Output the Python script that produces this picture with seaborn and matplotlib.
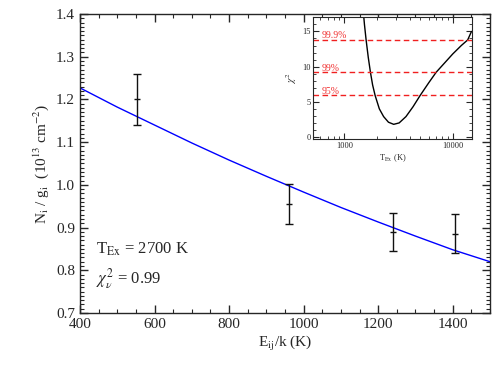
import numpy as np
import pandas as pd
import matplotlib
matplotlib.use("Agg")
import matplotlib.pyplot as plt
import seaborn as sns
from matplotlib.ticker import MultipleLocator, LogLocator, NullFormatter

# =====================================================
# DATA
# =====================================================

# observed level populations
E_obs = [553, 961, 1240, 1406]
N_obs = [1.200, 0.956, 0.890, 0.886]
N_err = [0.060, 0.047, 0.045, 0.045]

# fitted Boltzmann curve
E_fit = [400, 500, 600, 700, 800, 900, 1000, 1100, 1200, 1300, 1400, 1500]
N_fit = [1.227, 1.182, 1.140, 1.098, 1.058, 1.020, 0.983, 0.947, 0.913, 0.880, 0.848, 0.820]

# inset: chi^2 vs excitation temperature
T_chi = [1480, 1530, 1585, 1660, 1738, 1820, 1920, 2100, 2300, 2550, 2850,
         3200, 3700, 4300, 5000, 6000, 7030, 8500, 10000, 12000, 13750, 14900]
chi2 = [18.5, 16.0, 13.8, 11.3, 9.2, 7.4, 5.9, 4.0, 2.9, 2.1, 1.8,
        2.0, 2.9, 4.3, 5.9, 7.7, 9.2, 10.6, 11.8, 13.0, 13.8, 15.0]

conf_levels = [5.9, 9.2, 13.8]
conf_labels = ["95%", "99%", "99.9%"]

# =====================================================
# STYLE
# =====================================================

sns.set_style("ticks")
plt.rcParams["font.family"] = ["Liberation Serif", "DejaVu Serif"]
plt.rcParams["mathtext.fontset"] = "stix"
plt.rcParams["xtick.direction"] = "in"
plt.rcParams["ytick.direction"] = "in"
plt.rcParams["xtick.top"] = True
plt.rcParams["ytick.right"] = True

fig = plt.figure(figsize=(4.98, 3.78), dpi=100)
ax = fig.add_axes([0.1606, 0.172, 0.8234, 0.791])

# =====================================================
# MAIN PANEL
# =====================================================

fit_df = pd.DataFrame({"E": E_fit, "N": N_fit})
sns.lineplot(data=fit_df, x="E", y="N", color="#0000ff", lw=1.0, ax=ax)

ax.errorbar(
    E_obs, N_obs, yerr=N_err,
    fmt="_", color="#111111", ms=5, mew=1.0,
    elinewidth=1.0, capsize=3, capthick=1.0
)

ax.set_xlim(400, 1500)
ax.set_ylim(0.7, 1.4)
ax.xaxis.set_major_locator(MultipleLocator(200))
ax.xaxis.set_minor_locator(MultipleLocator(50))
ax.yaxis.set_major_locator(MultipleLocator(0.1))
ax.yaxis.set_minor_locator(MultipleLocator(0.01))
ax.yaxis.set_major_formatter(matplotlib.ticker.FormatStrFormatter("%.1f"))
ax.tick_params(which="major", length=6, width=1.0, labelsize=11)
ax.tick_params(which="minor", length=3, width=0.8)
for sp in ax.spines.values():
    sp.set_linewidth(1.0)

ax.set_xlabel(r"E$_{\rm ij}$/k (K)", fontsize=11, labelpad=2)
ax.set_ylabel(r"N$_{\rm i}$ / g$_{\rm i}$  (10$^{13}$ cm$^{-2}$)", fontsize=11, labelpad=4)

ax.text(0.038, 0.198, r"T$_{\rm Ex}$ = 2700 K", transform=ax.transAxes, fontsize=12)
ax.text(0.038, 0.097, r"$\chi^2_\nu$ = 0.99", transform=ax.transAxes, fontsize=12)

# =====================================================
# INSET
# =====================================================

ins = fig.add_axes([0.629, 0.632, 0.319, 0.322])
chi_df = pd.DataFrame({"T": T_chi, "chi2": chi2})
sns.lineplot(data=chi_df, x="T", y="chi2", color="black", lw=1.0, ax=ins)

for lvl, lab in zip(conf_levels, conf_labels):
    ins.axhline(lvl, color="#f02020", ls=(0, (4, 2.5)), lw=1.0)
    ins.text(610, lvl + 0.25, lab, color="#f03030", fontsize=7)

ins.set_xscale("log")
ins.set_xlim(515, 15100)
ins.set_ylim(-0.3, 17)
ins.xaxis.set_major_locator(LogLocator(base=10))
ins.xaxis.set_minor_locator(LogLocator(base=10, subs=np.arange(2, 10)))
ins.xaxis.set_minor_formatter(NullFormatter())
ins.xaxis.set_major_formatter(matplotlib.ticker.FuncFormatter(lambda v, p: f"{int(v)}"))
ins.yaxis.set_major_locator(MultipleLocator(5))
ins.yaxis.set_minor_locator(MultipleLocator(1))
ins.tick_params(which="major", length=4, width=0.8, labelsize=6, pad=2)
ins.tick_params(which="minor", length=2, width=0.6)
for sp in ins.spines.values():
    sp.set_linewidth(0.8)

ins.set_xlabel(r"T$_{\rm Ex}$ (K)", fontsize=6, labelpad=2)
ins.set_ylabel(r"$\chi^2$", fontsize=7, labelpad=2)

fig.savefig("out.png", dpi=100)
